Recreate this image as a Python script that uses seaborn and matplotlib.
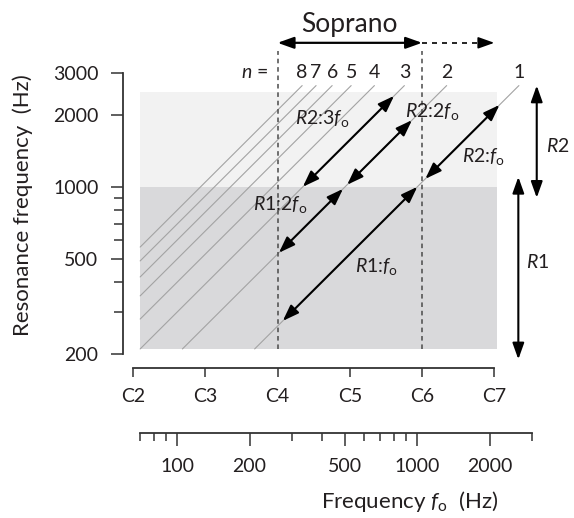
import numpy as np
import pandas as pd
import matplotlib
matplotlib.use('Agg')
import matplotlib.pyplot as plt
from matplotlib.ticker import FixedLocator, NullFormatter, NullLocator
import seaborn as sns

# ---------------- data ----------------
note_names = ['C2', 'C3', 'C4', 'C5', 'C6', 'C7']
note_freqs = [65.41, 130.81, 261.63, 523.25, 1046.50, 2093.00]
harmonics = [1, 2, 3, 4, 5, 6, 7, 8]
hz_major = [100, 200, 500, 1000, 2000]
hz_minor = [70, 80, 90, 300, 400, 600, 700, 800, 900, 3000]
res_major = [200, 500, 1000, 2000, 3000]
res_minor = [300, 400, 600, 700, 800, 900]
r1_band = [210, 1000]
r2_band = [1000, 2500]
band_f = [70, 2150]
line_top = 2650
soprano_y = 4000

arrow_labels = [r'$R$1:$f_{\mathrm{o}}$', r'$R$2:$f_{\mathrm{o}}$', r'$R$1:2$f_{\mathrm{o}}$',
                r'$R$2:2$f_{\mathrm{o}}$', r'$R$2:3$f_{\mathrm{o}}$']
arrow_n = [1, 1, 2, 2, 3]
arrow_lo = [275, 1080, 530, 1020, 1000]
arrow_hi = [1000, 2200, 980, 1900, 2400]
label_f = [677, 1880, 268, 1150, 400]
label_R = [463, 1340, 840, 2060, 1930]

res_names = [r'$R$1', r'$R$2']
res_lo = [190, 900]
res_hi = [1100, 2650]
res_arrow_f = [2636, 3145]
res_label_f = [3180, 3860]
res_label_R = [486, 1480]

# ---------------- style ----------------
sns.set_theme(style='white')
plt.rcParams['font.family'] = ['Lato', 'DejaVu Sans']
plt.rcParams['mathtext.fontset'] = 'custom'
plt.rcParams['mathtext.rm'] = 'Lato'
plt.rcParams['mathtext.it'] = 'Lato:italic'
plt.rcParams['mathtext.bf'] = 'Lato:bold'
TXT = '#231f20'
SP = '#333333'
FS = 14

W, H = 574, 518
fig = plt.figure(figsize=(W / 100, H / 100), dpi=100)

px_left, px_right, px_top, px_bot = 122.7, 540.0, 72.7, 354.0
ax = fig.add_axes([px_left / W, 1 - px_bot / H, (px_right - px_left) / W, (px_bot - px_top) / H])
xlim = (59.2, 3245)
ax.set_xscale('log')
ax.set_yscale('log')
ax.set_xlim(*xlim)
ax.set_ylim(200, 3000)
ax.patch.set_alpha(0)

# shaded resonance bands
ax.fill_between(band_f, r1_band[0], r1_band[1], color='#d9d9db', lw=0, zorder=0)
ax.fill_between(band_f, r2_band[0], r2_band[1], color='#f2f2f2', lw=0, zorder=0)

# harmonic lines R = n f0
rows = []
for n in harmonics:
    lo = max(r1_band[0], n * band_f[0])
    rows.append(dict(n=n, f=lo / n, R=lo))
    rows.append(dict(n=n, f=line_top / n, R=line_top))
df = pd.DataFrame(rows)
sns.lineplot(data=df, x='f', y='R', units='n', estimator=None, sort=False,
             color='#a3a3a3', lw=0.8, ax=ax, legend=False, zorder=1)
ax.set_xlabel('')
ax.set_ylabel('')

for n in harmonics:
    ax.text(line_top / n, 3000, str(n), ha='center', va='center', fontsize=FS,
            color=TXT, clip_on=False)
ax.annotate(r'$n$ =', xy=(note_freqs[2], 3000), xytext=(-7, 0), textcoords='offset points',
            ha='right', va='center', fontsize=FS, color=TXT, annotation_clip=False)

# dashed verticals at C4 and C6
ax.vlines([note_freqs[2], note_freqs[4]], r1_band[0], 3700, colors='#4a4a4a',
          linestyles=(0, (3, 2.5)), lw=1.1, clip_on=False, zorder=2)

# soprano arrows
ax.annotate('', xy=(note_freqs[4], soprano_y), xytext=(note_freqs[2], soprano_y),
            arrowprops=dict(arrowstyle='<|-|>,head_length=0.7,head_width=0.25', mutation_scale=14,
                            lw=1.6, color='black', shrinkA=0, shrinkB=0),
            annotation_clip=False)
ax.plot([note_freqs[4], note_freqs[5] * 0.93], [soprano_y, soprano_y], color='black', lw=1.2,
        ls=(0, (3, 3)), clip_on=False)
ax.annotate('', xy=(note_freqs[5], soprano_y), xytext=(note_freqs[5] * 0.9, soprano_y),
            arrowprops=dict(arrowstyle='-|>,head_length=0.7,head_width=0.25', mutation_scale=14,
                            lw=1.2, color='black', shrinkA=0, shrinkB=0),
            annotation_clip=False)
ax.annotate('Soprano', xy=(note_freqs[3], soprano_y), xytext=(0, 4), textcoords='offset points',
            ha='center', va='bottom', fontsize=19, color=TXT, annotation_clip=False)

# resonance arrows along harmonics
for lab, n, lo, hi, lf, lr in zip(arrow_labels, arrow_n, arrow_lo, arrow_hi, label_f, label_R):
    ax.annotate('', xy=(hi / n, hi), xytext=(lo / n, lo),
                arrowprops=dict(arrowstyle='<|-|>,head_length=0.7,head_width=0.25', mutation_scale=14,
                                lw=1.5, color='black', shrinkA=0, shrinkB=0), zorder=3)
    ax.text(lf, lr, lab, ha='center', va='center', fontsize=FS, color=TXT, zorder=4)

# R1 / R2 range arrows
for lab, lo, hi, af, lf, lr in zip(res_names, res_lo, res_hi, res_arrow_f, res_label_f, res_label_R):
    ax.annotate('', xy=(af, hi), xytext=(af, lo),
                arrowprops=dict(arrowstyle='<|-|>,head_length=0.7,head_width=0.25', mutation_scale=14,
                                lw=1.5, color='black', shrinkA=0, shrinkB=0),
                annotation_clip=False)
    ax.text(lf, lr, lab, ha='center', va='center', fontsize=FS, color=TXT, clip_on=False)

# axes styling: y axis
sns.despine(ax=ax)
ax.spines['left'].set_bounds(200, 3000)
ax.spines['left'].set_color(SP)
ax.spines['left'].set_linewidth(1.3)
ax.yaxis.set_major_locator(FixedLocator(res_major))
ax.yaxis.set_major_formatter(plt.FixedFormatter([str(v) for v in res_major]))
ax.yaxis.set_minor_locator(FixedLocator(res_minor))
ax.yaxis.set_minor_formatter(NullFormatter())
ax.tick_params(axis='y', which='major', direction='out', length=8.5, width=1.1, color=SP,
               labelsize=FS, labelcolor=TXT, pad=9, left=True)
ax.tick_params(axis='y', which='minor', direction='out', length=6.5, width=1.1, color=SP, left=True)

# note axis (bottom spine)
ax.spines['bottom'].set_position(('outward', 10.3))
ax.spines['bottom'].set_bounds(note_freqs[0], note_freqs[-1])
ax.spines['bottom'].set_color(SP)
ax.spines['bottom'].set_linewidth(1.3)
ax.xaxis.set_major_locator(FixedLocator(note_freqs))
ax.xaxis.set_major_formatter(plt.FixedFormatter(note_names))
ax.xaxis.set_minor_locator(NullLocator())
ax.tick_params(axis='x', which='major', direction='out', length=6.5, width=1.1, color=SP,
               labelsize=FS, labelcolor=TXT, pad=8, bottom=True)

# Hz axis
ax2 = fig.add_axes([px_left / W, 1 - 433.3 / H, (px_right - px_left) / W, 0.01])
ax2.set_xscale('log')
ax2.set_xlim(*xlim)
ax2.patch.set_alpha(0)
for s in ['top', 'left', 'right']:
    ax2.spines[s].set_visible(False)
ax2.spines['bottom'].set_bounds(hz_minor[0], hz_minor[-1])
ax2.spines['bottom'].set_color(SP)
ax2.spines['bottom'].set_linewidth(1.3)
ax2.set_yticks([])
ax2.xaxis.set_major_locator(FixedLocator(hz_major))
ax2.xaxis.set_major_formatter(plt.FixedFormatter([str(v) for v in hz_major]))
ax2.xaxis.set_minor_locator(FixedLocator(hz_minor))
ax2.xaxis.set_minor_formatter(NullFormatter())
ax2.tick_params(axis='x', which='major', direction='out', length=9, width=1.1, color=SP,
                labelsize=FS, labelcolor=TXT, pad=9, bottom=True)
ax2.tick_params(axis='x', which='minor', direction='out', length=5.5, width=1.1, color=SP, bottom=True)

fig.text(410 / W, 1 - 502 / H, r'Frequency $f_{\mathrm{o}}$  (Hz)', ha='center', va='center',
         fontsize=16, color=TXT)
fig.text(23 / W, 1 - 205 / H, 'Resonance frequency  (Hz)', ha='center', va='center',
         rotation=90, fontsize=16, color=TXT)

fig.savefig('out.png', dpi=100)
